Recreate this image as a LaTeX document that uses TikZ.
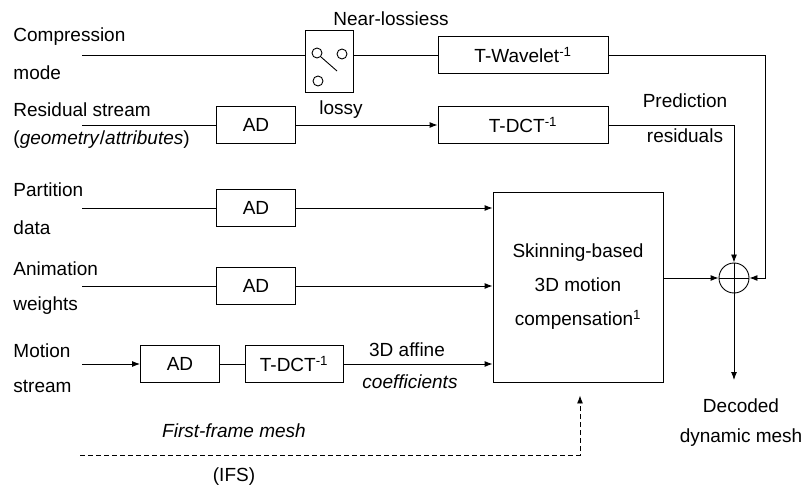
\documentclass[tikz,border=0pt]{standalone}
\usepackage{fontspec}
\setmainfont{Liberation Sans}
\usetikzlibrary{arrows.meta}

\begin{document}
\begin{tikzpicture}[x=1pt,y=-1pt,>={Latex[length=8pt,width=6pt]},line width=0.9pt,
  every node/.style={font=\fontsize{19pt}{23pt}\selectfont},
  blk/.style={draw,minimum height=37pt,inner sep=0pt},
  lbl/.style={anchor=west,align=left,inner sep=0pt,font=\fontsize{19pt}{35pt}\selectfont},
  txt/.style={anchor=base,inner sep=0pt}]
  \useasboundingbox (0,0) rectangle (808,486);
  % input labels
  \node[lbl,font=\fontsize{19pt}{38pt}\selectfont] (cm) at (13,54) {Compression\\mode};
  \node[lbl,font=\fontsize{19pt}{28pt}\selectfont] (rs) at (13,126) {Residual stream\\(\textit{geometry}/\textit{attributes})};
  \node[lbl,font=\fontsize{19pt}{38pt}\selectfont] (pd) at (13,209) {Partition\\data};
  \node[lbl] (aw) at (13,288) {Animation\\weights};
  \node[lbl] (ms) at (13,368) {Motion\\stream};
  \coordinate (cmIn) at (82,55);
  \coordinate (rsIn) at (82,125);
  \coordinate (pdIn) at (82,208);
  \coordinate (awIn) at (82,286);
  \coordinate (msIn) at (82,364);
  \coordinate (ffIn) at (80,455);
  % blocks
  \node[draw,minimum width=48pt,minimum height=62pt] (sw) at (329,61) {};
  \node[blk,minimum width=170pt] (tw) at (523,55) {T-Wavelet\textsuperscript{-1}};
  \node[blk,minimum width=79pt] (adR) at (256,125) {AD};
  \node[blk,minimum width=170pt] (tdR) at (523,125) {T-DCT\textsuperscript{-1}};
  \node[blk,minimum width=79pt] (adP) at (256,208) {AD};
  \node[blk,minimum width=79pt] (adA) at (256,286) {AD};
  \node[blk,minimum width=79pt] (adM) at (180,364) {AD};
  \node[blk,minimum width=98pt] (tdM) at (294,364) {T-DCT\textsuperscript{-1}};
  \node[draw,minimum width=170pt,minimum height=190pt,align=center,
    font=\fontsize{19pt}{34pt}\selectfont] (mc) at (578,287) {Skinning-based\\3D motion\\compensation\textsuperscript{1}};
  \node[circle,draw,minimum size=30pt,inner sep=0pt] (sum) at (734,278) {};
  \draw (sum.north) -- (sum.south) (sum.west) -- (sum.east);
  % switch
  \begin{scope}[shift={(sw.center)}]
    \draw (-12,-8) circle[radius=5pt] (13,-7) circle[radius=5pt] (-11,20) circle[radius=5pt];
    \draw (-8,-4) -- (8,10);
  \end{scope}
  % labels on the links
  \node[txt] (nl) at (391,26) {Near-lossiess};
  \node[txt] (ly) at (341,115) {lossy};
  \node[txt] (pr) at (685,108) {Prediction};
  \node[txt] (re) at (685,143) {residuals};
  \node[txt] (af) at (407,356) {3D affine};
  \node[txt] (co) at (410,388) {\textit{coefficients}};
  \node[txt] (ff) at (234,437) {\textit{First-frame mesh}};
  \node[txt] (ifs) at (234,481) {(IFS)};
  \node[align=center,font=\fontsize{19pt}{30pt}\selectfont] (dec) at (741,423) {Decoded\\dynamic mesh};
  \coordinate (tr) at (765,55);
  \coordinate (outC) at (734,380);
  % links
  \draw (cmIn) -- (sw.west |- cmIn);
  \draw (sw.east |- cmIn) -- (tw.west);
  \draw[->] (tw.east) -- (tr) |- (sum.east);
  \draw (rsIn) -- (adR.west);
  \draw[->] (adR.east) -- (tdR.west);
  \draw[->] (tdR.east) -| (sum.north);
  \draw (pdIn) -- (adP.west);
  \draw[->] (adP.east) -- (mc.west |- adP);
  \draw (awIn) -- (adA.west);
  \draw[->] (adA.east) -- (mc.west |- adA);
  \draw[->] (msIn) -- (adM.west);
  \draw (adM.east) -- (tdM.west);
  \draw[->] (tdM.east) -- (mc.west |- tdM);
  \draw[->] (mc.east |- sum) -- (sum.west);
  \draw[->] (sum.south) -- (outC);
  \draw[dash pattern=on 5pt off 3pt,->] (ffIn) -| ([xshift=2pt,yshift=-13pt]mc.south);
\end{tikzpicture}
\end{document}
